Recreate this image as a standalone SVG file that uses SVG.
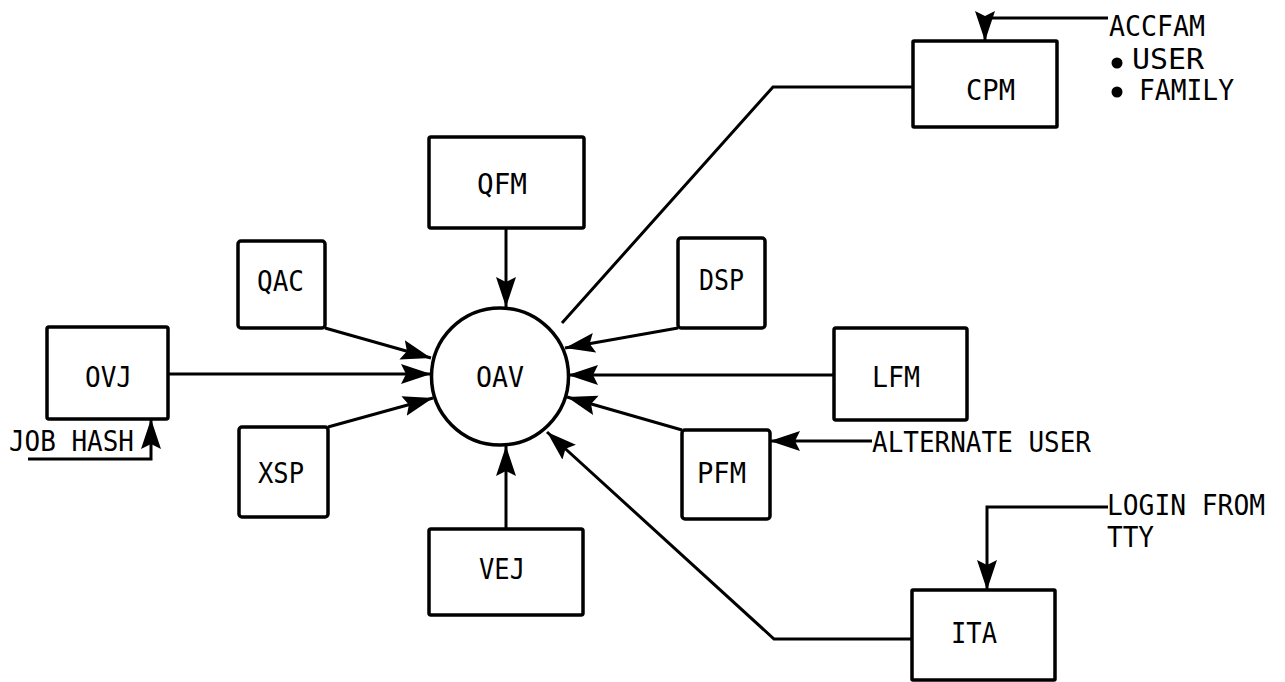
<svg xmlns="http://www.w3.org/2000/svg" width="1285" height="682" viewBox="0 0 1285 682">
<style>
.box{fill:#fff;stroke:#000;stroke-width:3.5;stroke-linejoin:round}
.ln{fill:none;stroke:#000;stroke-width:3;stroke-linejoin:miter}
.arr{marker-end:url(#ah)}
text{font-family:"DejaVu Sans Mono","Liberation Mono",monospace;font-size:29px;fill:#000}
</style>
<defs>
<marker id="ah" markerUnits="userSpaceOnUse" markerWidth="32" markerHeight="22" refX="30" refY="10" orient="auto" viewBox="0 0 32 22">
<path d="M0,0 L30,10 L0,20 L5,10 z" fill="#000"/>
</marker>
</defs>
<rect width="1285" height="682" fill="#fff"/>
<g id="connectors">
<path class="ln arr" d="M506,228 L506,307"/>
<path class="ln arr" d="M325,328 L431,358"/>
<path class="ln arr" d="M168,374 L431,374"/>
<path class="ln arr" d="M328,427 L433,398"/>
<path class="ln arr" d="M506,529 L506,446"/>
<path class="ln arr" d="M678,328 L565,348"/>
<path class="ln arr" d="M834,375 L568,375"/>
<path class="ln arr" d="M682,430 L567,397"/>
<path class="ln arr" d="M912,639 L774,639 L547,432"/>
<path class="ln" d="M913,87 L773,87 L562,323"/>
<path class="ln arr" d="M1108,18 L985,18 L985,41"/>
<path class="ln arr" d="M872,441 L770,441"/>
<path class="ln arr" d="M1108,507 L987,507 L987,590"/>
<path class="ln arr" d="M28,459 L151,459 L151,419"/>
</g>
<g id="node-OAV"><circle cx="500" cy="376.5" r="68.5" fill="#fff" stroke="#000" stroke-width="3.5"/><text x="476" y="387" textLength="48" lengthAdjust="spacingAndGlyphs">OAV</text></g>
<g id="node-OVJ"><rect class="box" x="47" y="327" width="121" height="92" rx="2"/><text x="85" y="387" textLength="47" lengthAdjust="spacingAndGlyphs">OVJ</text></g>
<g id="node-QAC"><rect class="box" x="238" y="241" width="87" height="87" rx="3"/><text x="257" y="291" textLength="47" lengthAdjust="spacingAndGlyphs">QAC</text></g>
<g id="node-QFM"><rect class="box" x="429" y="137" width="155" height="91" rx="2"/><text x="477" y="194" textLength="50" lengthAdjust="spacingAndGlyphs">QFM</text></g>
<g id="node-XSP"><rect class="box" x="239" y="427" width="89" height="90" rx="3"/><text x="258" y="483" textLength="46" lengthAdjust="spacingAndGlyphs">XSP</text></g>
<g id="node-VEJ"><rect class="box" x="429" y="529" width="154" height="86" rx="2"/><text x="479" y="579" textLength="46" lengthAdjust="spacingAndGlyphs">VEJ</text></g>
<g id="node-DSP"><rect class="box" x="678" y="238" width="87" height="90" rx="3"/><text x="699" y="290" textLength="45" lengthAdjust="spacingAndGlyphs">DSP</text></g>
<g id="node-LFM"><rect class="box" x="834" y="328" width="133" height="92" rx="2"/><text x="872" y="387" textLength="48" lengthAdjust="spacingAndGlyphs">LFM</text></g>
<g id="node-PFM"><rect class="box" x="682" y="430" width="88" height="89" rx="3"/><text x="697" y="483" textLength="49" lengthAdjust="spacingAndGlyphs">PFM</text></g>
<g id="node-CPM"><rect class="box" x="913" y="41" width="144" height="86" rx="1"/><text x="966" y="100" textLength="49" lengthAdjust="spacingAndGlyphs">CPM</text></g>
<g id="node-ITA"><rect class="box" x="912" y="590" width="143" height="90" rx="1"/><text x="951" y="643" textLength="46" lengthAdjust="spacingAndGlyphs">ITA</text></g>
<g id="labels">
<text x="1109" y="36" textLength="96" lengthAdjust="spacingAndGlyphs">ACCFAM</text>
<circle cx="1117" cy="63" r="5.5" fill="#000"/>
<text x="1132" y="69" textLength="72" lengthAdjust="spacingAndGlyphs">USER</text>
<circle cx="1117" cy="92" r="5.5" fill="#000"/>
<text x="1139" y="100" textLength="95" lengthAdjust="spacingAndGlyphs">FAMILY</text>
<text x="872" y="452" textLength="219" lengthAdjust="spacingAndGlyphs">ALTERNATE USER</text>
<text x="1107" y="515" textLength="158" lengthAdjust="spacingAndGlyphs">LOGIN FROM</text>
<text x="1107" y="547" textLength="47" lengthAdjust="spacingAndGlyphs">TTY</text>
<text x="9" y="451" textLength="125" lengthAdjust="spacingAndGlyphs">JOB HASH</text>
</g>
</svg>
